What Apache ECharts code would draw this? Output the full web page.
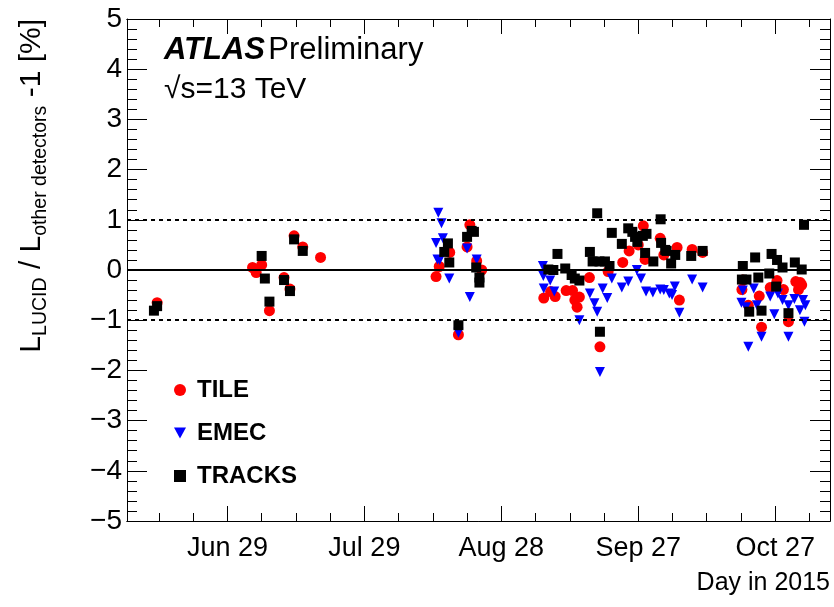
<!DOCTYPE html>
<html>
<head>
<meta charset="utf-8">
<script src="https://cdn.jsdelivr.net/npm/echarts@6/dist/echarts.min.js"></script>
<style>html,body{margin:0;padding:0;background:#fff;}#c{width:834px;height:607px;}</style>
</head>
<body>
<div id="c"></div>
<script>
// ---- data (day of year 2015, deviation in %) ----
const tileDays = [164.6,185.5,186.3,187.5,189.2,192.4,193.7,194.6,196.5,200.4,
  225.7,226.4,228.7,230.6,233.1,232.5,234.6,235.7,
  249.3,250.8,251.8,254.2,255.6,256.1,257.1,256.6,259.3,261.6,263.4,266.6,268,271.1,270,271.5,274.8,275.6,278.5,279,281.8,284.1,
  292.7,292.9,294.1,296.5,297,298.9,300.4,301.8,302.9,304.5,305.8,305.1,305.5];
const tileVals = [-0.65,0.05,-0.05,0.1,-0.81,-0.15,-0.38,0.68,0.46,0.25,
  -0.13,0.07,0.35,-1.29,0.9,0.46,0.18,0.0,
  -0.56,-0.43,-0.53,-0.41,-0.41,-0.6,-0.54,-0.74,-0.15,-1.53,-0.03,0.15,0.38,0.88,0.5,0.21,0.63,0.3,0.45,-0.6,0.41,0.35,
  -0.39,-0.2,-0.7,-0.52,-1.14,-0.35,-0.21,-0.39,-1.03,-0.23,-0.3,-0.39,-0.25];

const emecDays = [226.2,226.9,225.7,227.2,226,226.5,228.6,230.6,232.5,234.6,233.1,
  249.1,249.2,250.7,249.3,251.6,257.1,259.4,260.4,261,261.6,262.2,263.2,264.2,266.4,267.8,269.7,270.6,271.7,273.2,274.8,275.6,276.8,277.4,278,279,281.8,284.1,
  292.9,292.6,293.6,294.1,295.3,296,297,298.9,299.8,300.6,301.6,302.9,302.9,304.2,305.4,306.1,306.6,306.4];
const emecVals = [1.14,0.93,0.54,0.63,0.21,0.2,-0.17,-1.25,0.43,0.21,-0.54,
  0.08,-0.12,-0.21,-0.37,-0.43,-1.0,-0.47,-0.66,-0.83,-2.03,-0.37,-0.56,-0.17,-0.35,-0.23,0.0,-0.17,-0.43,-0.45,-0.39,-0.4,-0.47,-0.5,-0.33,-0.85,-0.19,-0.35,
  -0.41,-0.65,-0.74,-1.53,-0.37,-0.7,-1.33,-0.53,-0.88,-0.47,-0.6,-0.7,-1.33,-0.58,-0.8,-0.6,-0.7,-1.03];

const tracksDays = [163.9,164.6,
  187.5,188.2,189.2,192.4,193.7,194.6,196.5,
  228.3,227.5,228.6,230.6,233.5,234,232.5,234.5,235.2,235.2,
  250.3,251.4,252.3,254,255.4,256.1,257.1,259.4,260,261,261.5,262.7,263.7,261.6,264.2,266.4,267.8,268.7,269.3,269.8,271,271.8,271.5,273.3,274.9,275,275.9,276.2,277.2,278.1,281.6,284.1,
  292.9,295.6,292.7,293.7,296.3,294.3,297,299.2,300.4,301.6,298.7,300.2,302.9,304.3,305.8,306.3];
const tracksVals = [-0.81,-0.72,
  0.28,-0.17,-0.63,-0.2,-0.42,0.61,0.38,
  0.53,0.36,0.15,-1.1,0.78,0.76,0.66,0.05,-0.15,-0.25,
  0.01,0.0,0.32,0.03,-0.1,-0.17,-0.21,0.36,0.17,1.13,0.17,0.17,0.08,-1.23,0.74,0.52,0.83,0.76,0.66,0.56,0.68,0.72,0.34,0.17,1.01,0.54,0.4,0.38,0.13,0.3,0.28,0.38,
  0.08,0.25,-0.19,-0.19,-0.15,-0.83,-0.81,0.32,0.2,0.05,-0.07,-0.33,-0.86,0.15,0.01,0.9];

const tickDays = [180,210,240,270,300];
const tickLabels = ['Jun 29','Jul 29','Aug 28','Sep 27','Oct 27'];
const xMin = 158, xMax = 312;

// ---- build ----
const zip = (a,b) => a.map((d,i)=>[d,b[i]]);
const minorDays = [];
for (let d = tickDays[0]; d > xMin; d -= 7.5) if (!tickDays.includes(d)) minorDays.push(d);
for (let i = 0; i < tickDays.length; i++) {
  for (let k = 1; k < 4; k++) { const d = tickDays[i] + 7.5*k; if (d < xMax) minorDays.push(d); }
}
const FONT = '"Liberation Sans", Arial, Helvetica, sans-serif';
const lblMap = {}; tickDays.forEach((d,i)=>lblMap[d]=tickLabels[i]);

function xAx(pos, major, showLabel) {
  const vals = major ? tickDays : minorDays;
  return {
    type:'value', position:pos, min:xMin, max:xMax, gridIndex:0,
    axisLine:{show:true, onZero:false, lineStyle:{color:'#000', width:1}},
    axisTick:{show:true, inside:true, length: major?15:8, customValues:vals, lineStyle:{color:'#000', width:1}},
    axisLabel:{show:showLabel, customValues:tickDays, formatter:v=>lblMap[v]||'', fontFamily:FONT, fontSize:27, color:'#000', margin:14},
    splitLine:{show:false}
  };
}
function yAx(pos, showLabel) {
  return {
    type:'value', position:pos, min:-5, max:5, interval:1,
    axisLine:{show:true, onZero:false, lineStyle:{color:'#000', width:1}},
    axisTick:{show:true, inside:true, length:20, lineStyle:{color:'#000', width:1}},
    minorTick:{show:true, splitNumber:5, length:10, lineStyle:{color:'#000', width:1}},
    axisLabel:{show:showLabel, fontFamily:FONT, fontSize:28, color:'#000', margin:5,
      formatter:v=>String(v).replace('-','\u2212')},
    splitLine:{show:false}
  };
}

const chart = echarts.init(document.getElementById('c'), null, {renderer:'canvas'});
chart.setOption({
  animation:false,
  backgroundColor:'#fff',
  grid:{left:127, right:4, top:19, bottom:86, containLabel:false},
  xAxis:[xAx('bottom',true,true), xAx('bottom',false,false), xAx('top',true,false), xAx('top',false,false)],
  yAxis:[yAx('left',true), yAx('right',false)],
  legend:{
    orient:'vertical', left:169, top:373, itemGap:19, itemWidth:12, itemHeight:12,
    textStyle:{fontFamily:FONT, fontSize:24, fontWeight:'bold', color:'#000', padding:[0,0,0,6]},
    data:[{name:'TILE'}, {name:'EMEC', icon:'path://M0,0 L10,0 L5,9 Z'}, {name:'TRACKS'}]
  },
  graphic:[
    {type:'text', left:164, top:35, style:{rich:{a:{fontFamily:FONT, fontSize:31, fontWeight:'bold', fontStyle:'italic', fill:'#000'}, b:{fontFamily:FONT, fontSize:31, fill:'#000'}}, text:'{a|ATLAS} {b|Preliminary}'}},
    {type:'text', left:164, top:75, style:{text:'\u221As=13 TeV', fontFamily:FONT, fontSize:30, fill:'#000'}},
    {type:'text', right:4, top:571, style:{text:'Day in 2015', fontFamily:FONT, fontSize:25, fill:'#000'}},
    {type:'text', x:32, y:19, rotation:Math.PI/2,
      style:{align:'right', verticalAlign:'middle',
        rich:{L:{fontFamily:FONT, fontSize:30, fill:'#000'}, s:{fontFamily:FONT, fontSize:19.5, fill:'#000', padding:[18,0,0,0]}},
        text:'{L|L}{s|LUCID}{L| / L}{s|other detectors}{L| -1 [%]}'}}
  ],
  series:[
    {type:'scatter', name:'_lines', data:[], z:1, silent:true,
      markLine:{silent:true, symbol:'none', label:{show:false}, animation:false,
        data:[
          {yAxis:0, lineStyle:{type:'solid', color:'#000', width:2}},
          {yAxis:1, lineStyle:{type:[4,4], color:'#000', width:2}},
          {yAxis:-1, lineStyle:{type:[4,4], color:'#000', width:2}}
        ]}},
    {type:'scatter', name:'TILE', data:zip(tileDays,tileVals), symbol:'circle', symbolSize:11, itemStyle:{color:'#ff0000', opacity:1}, z:2},
    {type:'scatter', name:'EMEC', data:zip(emecDays,emecVals), symbol:'triangle', symbolRotate:180, symbolSize:10, itemStyle:{color:'#0000ff', opacity:1}, z:3},
    {type:'scatter', name:'TRACKS', data:zip(tracksDays,tracksVals), symbol:'rect', symbolSize:10, itemStyle:{color:'#000', opacity:1}, z:4}
  ]
});
</script>
</body>
</html>
